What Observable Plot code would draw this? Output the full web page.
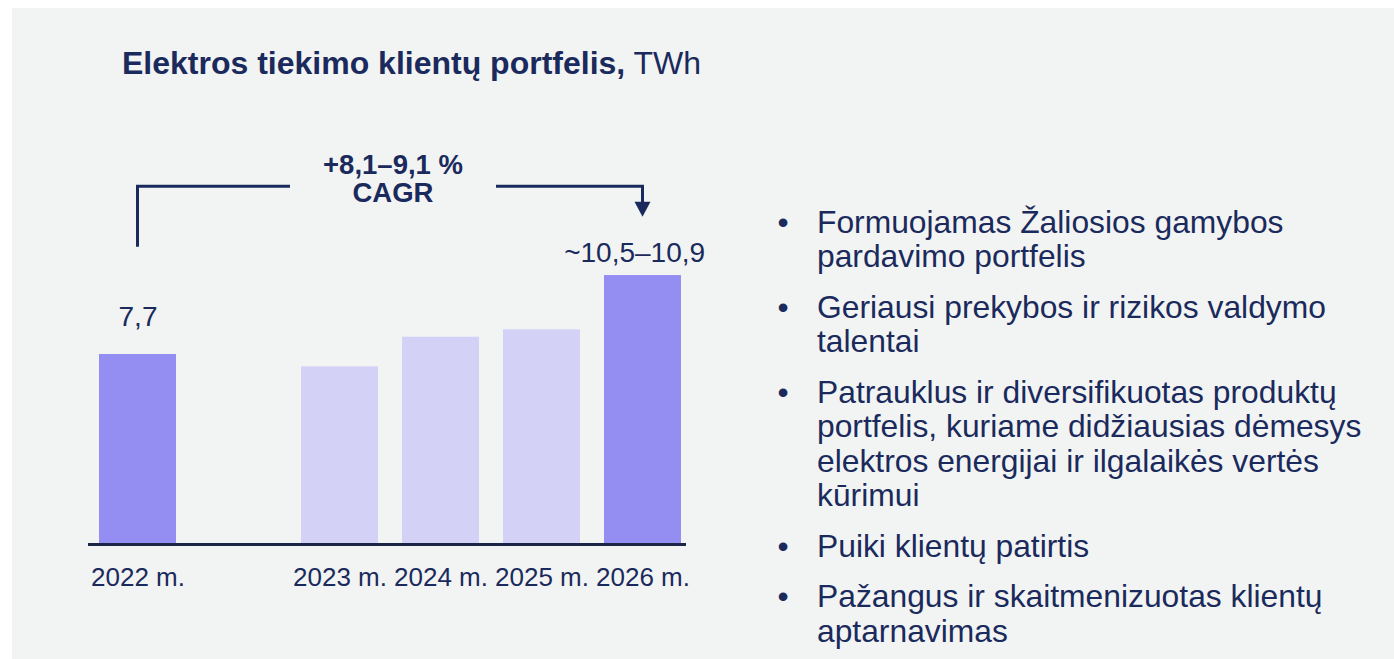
<!DOCTYPE html>
<html>
<head>
<meta charset="utf-8">
<script src="https://cdn.jsdelivr.net/npm/d3@7"></script>
<script src="https://cdn.jsdelivr.net/npm/@observablehq/plot@0.6"></script>
<style>
  html, body { margin: 0; padding: 0; background: #ffffff; width: 1394px; height: 659px; overflow: hidden;
    font-family: "Liberation Sans", Arial, sans-serif; color: #1b2a5c; }
  #panel { position: absolute; left: 12px; top: 8px; width: 1382px; height: 651px; background: #f2f4f3; }
  #title { position: absolute; left: 122px; top: 47.4px; font-size: 32px; line-height: 1; white-space: nowrap; }
  #title b { font-weight: 700; }
  #chart { position: absolute; left: 0; top: 100px; width: 720px; height: 520px; }
  #bullets { position: absolute; left: 777.4px; top: 204.7px; font-size: 31.8px; line-height: 34.5px; }
  .item { position: relative; padding-left: 39.6px; margin-bottom: 16px; white-space: nowrap; }
  .item::before { content: "•"; position: absolute; left: 0; top: 0; }
</style>
</head>
<body>
<div id="panel"></div>
<div id="title"></div>
<div id="chart"></div>
<div id="bullets"></div>
<script>
// ---- Data ----
const titleBold = "Elektros tiekimo klientų portfelis,";
const titleUnit = " TWh";
const years = ["2022 m.", "2023 m.", "2024 m.", "2025 m.", "2026 m."];
const values = [7.7, 7.2, 8.4, 8.7, 10.9];
const tones = ["fact", "plan", "plan", "plan", "goal"];
const valueLabels = ["7,7", "", "", "", "~10,5–10,9"];
const cagrLines = ["+8,1–9,1 %", "CAGR"];
const bullets = [
  ["Formuojamas Žaliosios gamybos", "pardavimo portfelis"],
  ["Geriausi prekybos ir rizikos valdymo", "talentai"],
  ["Patrauklus ir diversifikuotas produktų", "portfelis, kuriame didžiausias dėmesys", "elektros energijai ir ilgalaikės vertės", "kūrimui"],
  ["Puiki klientų patirtis"],
  ["Pažangus ir skaitmenizuotas klientų", "aptarnavimas"]
];

// ---- Style ----
const navy = "#1b2a5c";
const ruleColor = "#1a2547";
const dark = "#948ef2";
const light = "#d4d1f7";
const font = "'Liberation Sans', Arial, sans-serif";

// Title
const titleEl = document.getElementById("title");
const tb = document.createElement("b");
tb.textContent = titleBold;
titleEl.appendChild(tb);
titleEl.appendChild(document.createTextNode(titleUnit));

// Bullets
const bl = document.getElementById("bullets");
bullets.forEach(lines => {
  const d = document.createElement("div");
  d.className = "item";
  lines.forEach((ln, i) => {
    if (i) d.appendChild(document.createElement("br"));
    d.appendChild(document.createTextNode(ln));
  });
  bl.appendChild(d);
});

// Chart
const GAP = " ";
const xDomain = [years[0], GAP, ...years.slice(1)];
const data = years.map((year, i) => ({year, value: values[i], tone: tones[i], label: valueLabels[i]}));
const pxPerUnit = 24.675;
const baseY = 444;

const chart = Plot.plot({
  width: 720,
  height: 520,
  marginLeft: 88,
  marginRight: 34,
  marginTop: 0,
  marginBottom: 76,
  style: {background: "transparent", fontFamily: font, fontSize: "26px", color: navy, overflow: "visible"},
  x: {domain: xDomain, range: [86.4, 692.4], paddingInner: 0.24, paddingOuter: 0.12, align: 0.5,
      ticks: years, tickSize: 0, tickPadding: 23.5, label: null},
  y: {domain: [0, 16], range: [baseY, baseY - 16 * pxPerUnit], axis: null},
  color: {domain: ["fact", "plan", "goal"], range: [dark, light, dark]},
  marks: [
    Plot.barY(data, {x: "year", y: "value", fill: "tone"}),
    Plot.ruleY([0], {stroke: ruleColor, strokeWidth: 3}),
    Plot.text(data.slice(0, 1), {x: "year", y: "value", text: "label", dy: -29, lineAnchor: "bottom", fontSize: 28, fill: navy}),
    Plot.text(data.slice(-1), {x: "year", y: "value", text: "label", dx: -8.4, dy: -13.3, lineAnchor: "bottom", fontSize: 28, fill: navy})
  ]
});
document.getElementById("chart").appendChild(chart);

// CAGR bracket annotation, positioned through the plot's own scales
const sx = chart.scale("x"), sy = chart.scale("y");
const cx = k => sx.apply(k) + sx.bandwidth / 2;
const cagrLevel = 14.5, bracketStart = 12.05, arrowTip = 13.26;
const x0 = cx(years[0]), x1 = cx(years[years.length - 1]);
const mid = (x0 + x1) / 2 + 3;
const gapHalf = 103;
const yTop = sy.apply(cagrLevel), yStart = sy.apply(bracketStart), yTip = sy.apply(arrowTip);
const g = d3.select(chart).append("g").attr("fill", "none").attr("stroke", navy).attr("stroke-width", 3);
g.append("path").attr("d", `M${x0},${yStart}V${yTop}H${mid - gapHalf}`);
g.append("path").attr("d", `M${mid + gapHalf},${yTop}H${x1}V${yTip - 14}`);
d3.select(chart).append("path")
  .attr("d", `M${x1 - 8},${yTip - 15}L${x1 + 8},${yTip - 15}L${x1},${yTip}Z`)
  .attr("fill", navy);
const t = d3.select(chart).append("g").attr("font-family", font).attr("font-weight", 700)
  .attr("font-size", 27.5).attr("fill", navy).attr("text-anchor", "middle");
cagrLines.forEach((s, i) => {
  t.append("text").attr("x", mid).attr("y", yTop - 12 + i * 28).text(s);
});
</script>
</body>
</html>
